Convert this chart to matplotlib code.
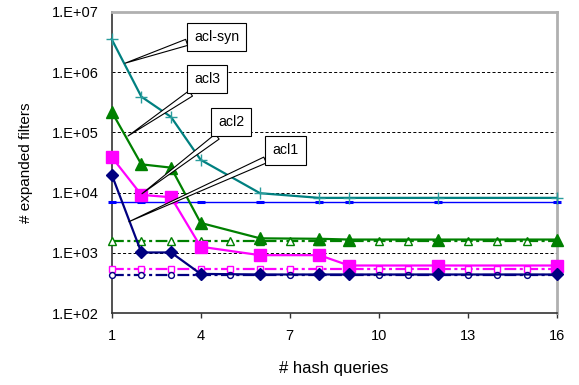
import math
import matplotlib
matplotlib.use("Agg")
import matplotlib.pyplot as plt
from matplotlib.ticker import FixedLocator, FuncFormatter

plt.rcParams['font.family'] = ['Liberation Sans', 'DejaVu Sans']
plt.rcParams['lines.scale_dashes'] = False

# ---- data ----
x_main = [1, 2, 3, 4, 6, 8, 9, 12, 16]
acl_syn = [3.5e6, 3.9e5, 1.8e5, 3.5e4, 9.8e3, 8.2e3, 8.2e3, 8.2e3, 8.2e3]
acl3 = [2.2e5, 2.95e4, 2.6e4, 3.15e3, 1.75e3, 1.72e3, 1.67e3, 1.67e3, 1.67e3]
acl2 = [3.9e4, 9.2e3, 8.4e3, 1.27e3, 9.2e2, 9.2e2, 6.2e2, 6.2e2, 6.2e2]
acl1 = [2.0e4, 1.02e3, 1.02e3, 4.5e2, 4.4e2, 4.4e2, 4.4e2, 4.4e2, 4.4e2]
syn_bound = [7.0e3] * len(x_main)

x_all = list(range(1, 17))
acl3_bound = [1.6e3] * 16
acl2_bound = [5.4e2] * 16
acl1_bound = [4.3e2] * 16

xticks = [1, 4, 7, 10, 13, 16]
yticks = [1e2, 1e3, 1e4, 1e5, 1e6, 1e7]

# callouts: label, tip (x, y) in data, box center in axes fraction, wedge start on box
callouts = [
    ("acl-syn", (1.45, 1.4e6), (0.236, 0.916), (0.0, 0.3)),
    ("acl3", (1.55, 8.7e4), (0.214, 0.777), (0.3, 0.0)),
    ("acl2", (2.02, 9.6e3), (0.268, 0.634), (0.35, 0.0)),
    ("acl1", (1.58, 3.3e3), (0.391, 0.540), (0.05, 0.1)),
]

fig = plt.figure(figsize=(5.79, 3.85), dpi=100)
ax = fig.add_axes([0.1929, 0.1862, 0.7686, 0.7834])

ax.set_yscale('log')
ax.set_xlim(1, 16)
ax.set_ylim(1e2, 1e7)

dashdot = (0, (8.5, 2.5, 2.2, 2.5))

# bound (dash-dot) lines
ax.plot(x_all, acl3_bound, color='#008000', lw=1.6, linestyle=dashdot,
        marker='^', ms=5.5, mfc='white', mec='#008000', mew=1.0, zorder=3, clip_on=False)
ax.plot(x_all, acl2_bound, color='#FF00FF', lw=1.6, linestyle=dashdot,
        marker='s', ms=4.8, mfc='white', mec='#FF00FF', mew=1.0, zorder=3, clip_on=False)
ax.plot(x_all, acl1_bound, color='#000080', lw=1.6, linestyle=dashdot,
        marker='o', ms=4.2, mfc='white', mec='#000080', mew=1.0, zorder=3, clip_on=False)
ax.plot(x_main, syn_bound, color='#0000FF', lw=1.0,
        marker='_', ms=6, mew=2.2, mec='#0000FF', zorder=3, clip_on=False)

# main lines
ax.plot(x_main, acl_syn, color='#008080', lw=1.6,
        marker='+', ms=9, mew=1.0, mec='#2A9D9D', zorder=4, clip_on=False)
ax.plot(x_main, acl3, color='#008000', lw=1.6,
        marker='^', ms=9, mfc='#008000', mec='#008000', zorder=4, clip_on=False)
ax.plot(x_main, acl2, color='#FF00FF', lw=1.6,
        marker='s', ms=8, mfc='#FF00FF', mec='#FF00FF', zorder=4, clip_on=False)
ax.plot(x_main, acl1, color='#000080', lw=1.6,
        marker='D', ms=6, mfc='#000080', mec='#000080', zorder=4, clip_on=False)

# grid
for yv in yticks[1:-1]:
    ax.axhline(yv, color='black', lw=0.7, linestyle=(0, (2.2, 1.6)), zorder=1)

# axes styling
ax.xaxis.set_major_locator(FixedLocator(xticks))
ax.yaxis.set_major_locator(FixedLocator(yticks))
ax.yaxis.set_minor_locator(FixedLocator([]))
ax.yaxis.set_major_formatter(FuncFormatter(lambda v, p: "1.E+%02d" % round(math.log10(v))))
ax.tick_params(axis='x', direction='out', length=3.5, width=1, color='#333333',
               labelsize=10.5, pad=8)
ax.tick_params(axis='y', length=0, labelsize=10.5, pad=9)
for s in ['left', 'bottom']:
    ax.spines[s].set_color('#333333')
    ax.spines[s].set_linewidth(1.2)
for s in ['top', 'right']:
    ax.spines[s].set_color('#B0B0B0')
    ax.spines[s].set_linewidth(2)

ax.set_xlabel('# hash queries', fontsize=12, labelpad=13)
ax.set_ylabel('# expanded filters', fontsize=11, labelpad=14)

for label, tip, box, rp in callouts:
    ax.annotate(label, xy=tip, xycoords='data', xytext=box, textcoords='axes fraction',
                ha='center', va='center', fontsize=10.2, zorder=6,
                bbox=dict(boxstyle='square,pad=0.5', fc='white', ec='black', lw=0.8),
                arrowprops=dict(arrowstyle='wedge,tail_width=0.45,shrink_factor=0.5',
                                fc='white', ec='black', lw=0.8, shrinkA=0, shrinkB=0,
                                relpos=rp))

fig.savefig('out.png', dpi=100)
